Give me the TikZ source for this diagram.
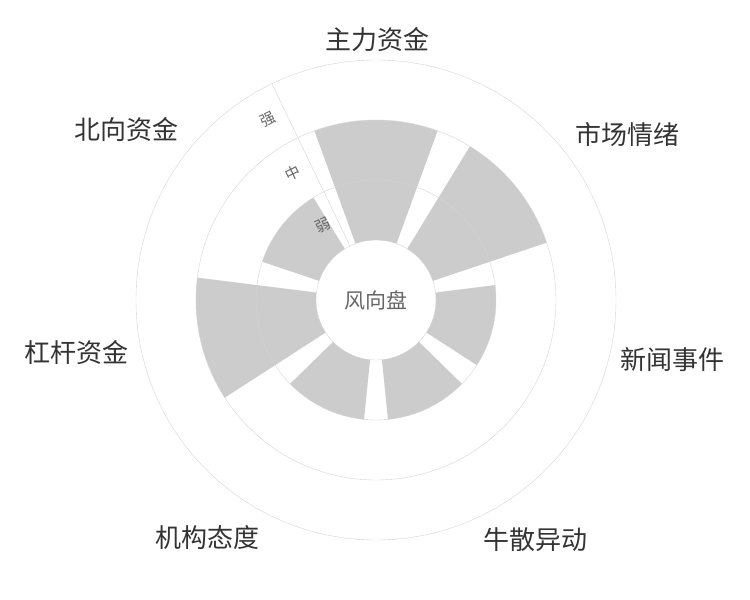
\documentclass[tikz,border=0pt]{standalone}
\usepackage{fontspec}
\setmainfont{Noto Sans CJK SC}
\usepackage{tikz}

\begin{document}
\begin{tikzpicture}[x=1pt,y=1pt]
\definecolor{gridgray}{HTML}{D4D4D4}
\definecolor{barfill}{HTML}{CCCCCC}
\newcommand{\wedgebar}[2]{\fill [barfill] (#1-20:60) arc (#1-20:#1+20:60) -- (#1+20:#2) arc (#1+20:#1-20:#2) -- cycle;}
\useasboundingbox (-376,-300) rectangle (374,300);

\wedgebar{90}{180}
\wedgebar{38.57}{180}
\wedgebar{-12.86}{120}
\wedgebar{-64.29}{120}
\wedgebar{-115.71}{120}
\wedgebar{-167.14}{180}
\wedgebar{141.43}{120}

\draw [gridgray] (0,0) circle (60);
\draw [gridgray] (0,0) circle (120);
\draw [gridgray] (0,0) circle (180);
\draw [gridgray] (0,0) circle (240);
\draw [gridgray] (115.71:60)--(115.71:240);

\node [text=black!60,font=\fontsize{21}{21}\selectfont] (center) at (0,0) {风向盘};
\node [text=black!60,rotate=25.7,font=\fontsize{15}{15}\selectfont] (qiang) at (-108,180) {强};
\node [text=black!60,rotate=25.7,font=\fontsize{15}{15}\selectfont] (zhong) at (-83,127) {中};
\node [text=black!60,rotate=25.7,font=\fontsize{15}{15}\selectfont] (ruo) at (-53,75) {弱};

\node [text=black!80,font=\fontsize{26}{26}\selectfont] (zhuli) at (2,260) {主力资金};
\node [text=black!80,font=\fontsize{26}{26}\selectfont] (shichang) at (251,165) {市场情绪};
\node [text=black!80,font=\fontsize{26}{26}\selectfont] (xinwen) at (296,-60) {新闻事件};
\node [text=black!80,font=\fontsize{26}{26}\selectfont] (niusan) at (160,-240) {牛散异动};
\node [text=black!80,font=\fontsize{26}{26}\selectfont] (jigou) at (-168,-238) {机构态度};
\node [text=black!80,font=\fontsize{26}{26}\selectfont] (ganggan) at (-299,-53) {杠杆资金};
\node [text=black!80,font=\fontsize{26}{26}\selectfont] (beixiang) at (-249,170) {北向资金};
\end{tikzpicture}
\end{document}
